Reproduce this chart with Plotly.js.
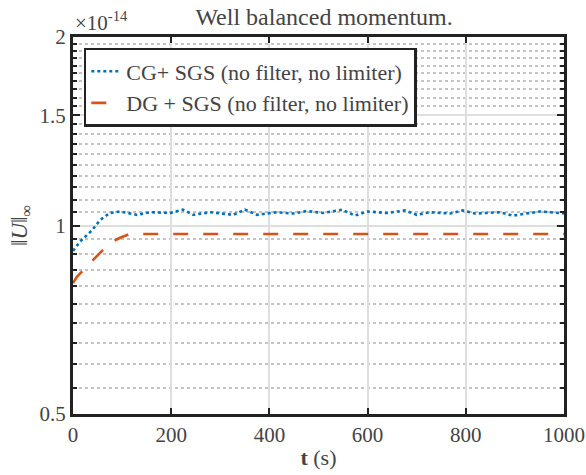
<!DOCTYPE html>
<html>
<head>
<meta charset="utf-8">
<script src="https://cdn.plot.ly/plotly-3.0.1.min.js"></script>
<style>
html,body{margin:0;padding:0;background:#fff;}
#chart{width:586px;height:475px;}
svg text, svg tspan { font-family: "Liberation Serif", "Times New Roman", serif !important; }
</style>
</head>
<body>
<div style="position:absolute;left:-9999px;top:0;font-family:'Liberation Serif';font-size:21px;">Well balanced 0123456789</div>
<div id="chart"></div>
<script>
// CG + SGS series (values in units of 1e-14)
const cgT = [0, 14, 39, 55, 75, 96, 130, 157, 198, 224, 245, 279, 326, 350, 375, 415, 448, 477, 509, 548, 574, 599, 639, 676, 700, 727, 768, 794, 819, 870, 896, 951, 992, 1000];
const cgU = [0.911, 0.942, 0.983, 1.020, 1.047, 1.053, 1.040, 1.050, 1.047, 1.060, 1.040, 1.050, 1.040, 1.060, 1.040, 1.050, 1.045, 1.055, 1.047, 1.060, 1.037, 1.053, 1.047, 1.057, 1.040, 1.050, 1.045, 1.057, 1.045, 1.050, 1.037, 1.053, 1.047, 1.045];
// DG + SGS series
const dgT = [0, 8, 41, 75, 96, 115, 200, 400, 600, 800, 1000];
const dgU = [0.809, 0.828, 0.881, 0.938, 0.956, 0.969, 0.969, 0.969, 0.969, 0.969, 0.969];

const seriesNames = ["CG+ SGS (no filter, no limiter)", "DG + SGS (no filter, no limiter)"];
const yTickVals = [0.5, 1, 1.5, 2];
const yTickText = ["0.5", "1", "1.5", "2"];
const yMinorVals = [0.55, 0.6, 0.65, 0.7, 0.75, 0.8, 0.85, 0.9, 0.95, 1.05, 1.1, 1.15, 1.2, 1.25, 1.3, 1.35, 1.4, 1.45, 1.55, 1.6, 1.65, 1.7, 1.75, 1.8, 1.85, 1.9, 1.95];
const xTickVals = [0, 200, 400, 600, 800, 1000];

const FONT = "Liberation Serif";
const yRange = [Math.log10(0.5), Math.log10(2)];

const traces = [
  {x: cgT, y: cgU, name: seriesNames[0], mode: "lines", type: "scatter",
   line: {color: "#0072BD", width: 2.6, dash: "dot"}},
  {x: dgT, y: dgU, name: seriesNames[1], mode: "lines", type: "scatter",
   line: {color: "#D95319", width: 2.6, dash: "longdash"}}
];

const layout = {
  width: 586, height: 475,
  margin: {l: 73, r: 22, t: 37, b: 61},
  paper_bgcolor: "#fff", plot_bgcolor: "#fff",
  font: {family: FONT, size: 21},
  showlegend: true,
  title: {text: "Well balanced momentum.", font: {family: FONT, size: 24},
          x: 0.553, xanchor: "center", y: 0.966, yanchor: "middle"},
  xaxis: {
    range: [0, 1000], tickvals: xTickVals, ticktext: xTickVals.map(String),
    showgrid: true, gridcolor: "#dedede", gridwidth: 2,
    ticks: "inside", ticklen: 6, tickwidth: 2, tickcolor: "#222",
    showline: true, linecolor: "#222", linewidth: 3, mirror: "ticks",
    zeroline: false,
    tickfont: {family: FONT, size: 21},
    title: {text: "<b>t</b> (s)", font: {family: FONT, size: 22}, standoff: 4}
  },
  yaxis: {
    type: "log", range: yRange,
    tickmode: "array", tickvals: yTickVals, ticktext: yTickText,
    showgrid: true, gridcolor: "#dedede", gridwidth: 2,
    ticks: "inside", ticklen: 7, tickwidth: 2, tickcolor: "#222",
    showline: true, linecolor: "#222", linewidth: 3, mirror: "ticks",
    zeroline: false,
    tickfont: {family: FONT, size: 21},
    minor: {tickmode: "array", tickvals: yMinorVals, showgrid: true, gridcolor: "#c4c4c4",
            griddash: "dot", gridwidth: 2, ticks: "inside", ticklen: 4, tickwidth: 2, tickcolor: "#222"},
    title: {text: "&#8214;<i>U</i>&#8214;<sub>&#8734;</sub>", font: {family: FONT, size: 23}, standoff: 6}
  },
  legend: {
    x: 0.022, y: 0.971, xanchor: "left", yanchor: "top",
    bgcolor: "#fff", bordercolor: "#222", borderwidth: 2.5,
    font: {family: FONT, size: 22}
  },
  annotations: [{
    text: "&#215;10<sup>-14</sup>", xref: "paper", yref: "paper", x: 0, y: 1,
    xanchor: "left", yanchor: "bottom", yshift: 0, showarrow: false,
    font: {family: FONT, size: 21}
  }]
};

Plotly.newPlot("chart", traces, layout, {staticPlot: true});
</script>
</body>
</html>
